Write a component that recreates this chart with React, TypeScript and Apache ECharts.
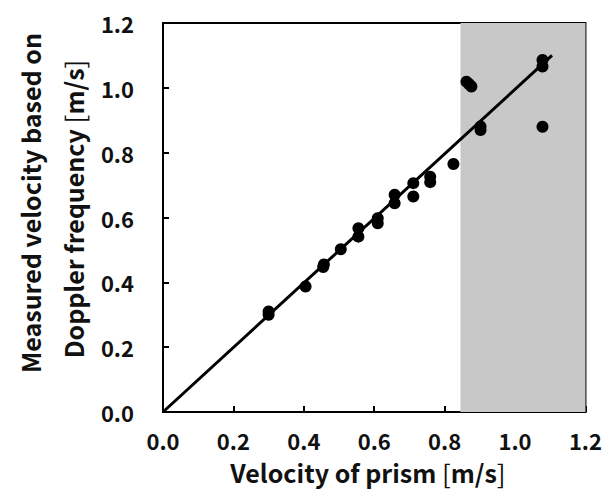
import React, { useEffect, useRef } from "react";
import * as echarts from "echarts";

const prismVelocity = [0.30, 0.30, 0.405, 0.455, 0.457, 0.505, 0.555, 0.555, 0.61, 0.61, 0.658, 0.658, 0.711, 0.711, 0.759, 0.759, 0.825, 0.862, 0.869, 0.876, 0.902, 0.902, 1.078, 1.078, 1.078];
const measuredVelocity = [0.300, 0.310, 0.387, 0.447, 0.455, 0.502, 0.541, 0.567, 0.582, 0.598, 0.644, 0.670, 0.665, 0.706, 0.709, 0.726, 0.765, 1.019, 1.012, 1.004, 0.870, 0.881, 1.086, 1.066, 0.880];
const fitX = [0, 1.105];
const fitY = [0, 1.1];
const shadeRange = [0.845, 1.2];

const FONT = "'Noto Sans CJK JP', 'Noto Sans', sans-serif";

const richStyles = {
  b: { fontSize: 25, fontWeight: "bold", fontFamily: FONT, fill: "#111" },
  n: { fontSize: 26, fontWeight: "normal", fontFamily: FONT, fill: "#111" },
};

export default function App() {
  const ref = useRef<HTMLDivElement>(null);
  useEffect(() => {
    if (!ref.current) return;
    const chart = echarts.init(ref.current, undefined, { renderer: "svg" });
    const axisCommon = {
      type: "value",
      min: 0,
      max: 1.2,
      interval: 0.2,
      axisLine: { show: true, lineStyle: { color: "#000", width: 2 } },
      axisTick: { show: true, inside: true, length: 6, lineStyle: { color: "#000", width: 2 } },
      splitLine: { show: false },
      axisLabel: {
        color: "#111",
        fontSize: 22,
        fontWeight: "bold",
        fontFamily: FONT,
        formatter: (v: number) => v.toFixed(1),
      },
    };
    const titleText = (x: number, y: number, rot: number, main: string) => ({
      type: "text",
      x,
      y,
      rotation: rot,
      style: {
        text: `{b|${main} }{n|[}{b|m/s}{n|]}`,
        rich: richStyles,
        fontSize: 25,
        fontWeight: "bold",
        fontFamily: FONT,
        fill: "#111",
        align: "center",
        verticalAlign: "middle",
      },
    });
    chart.setOption({
      animation: false,
      backgroundColor: "#fff",
      grid: {
        left: 163,
        right: 15,
        top: 23,
        bottom: 83,
        show: true,
        borderColor: "#000",
        borderWidth: 2,
        backgroundColor: "transparent",
      },
      xAxis: {
        ...axisCommon,
        axisLabel: { ...axisCommon.axisLabel, margin: 17 },
      },
      yAxis: {
        ...axisCommon,
        axisLabel: { ...axisCommon.axisLabel, margin: 29 },
      },
      graphic: [
        titleText(368, 472, 0, "Velocity of prism"),
        {
          type: "text",
          x: 30,
          y: 203,
          rotation: Math.PI / 2,
          style: {
            text: "Measured velocity based on",
            fontSize: 25,
            fontWeight: "bold",
            fontFamily: FONT,
            fill: "#111",
            align: "center",
            verticalAlign: "middle",
          },
        },
        titleText(73, 209, Math.PI / 2, "Doppler frequency"),
      ],
      series: [
        {
          type: "line",
          data: [],
          z: 1,
          markArea: {
            silent: true,
            itemStyle: { color: "#c8c8c8" },
            data: [[{ xAxis: shadeRange[0] }, { xAxis: shadeRange[1] }]],
          },
        },
        {
          type: "line",
          data: fitX.map((x, i) => [x, fitY[i]]),
          showSymbol: false,
          lineStyle: { color: "#000", width: 3 },
          z: 3,
        },
        {
          type: "scatter",
          data: prismVelocity.map((x, i) => [x, measuredVelocity[i]]),
          symbol: "circle",
          symbolSize: 12,
          itemStyle: { color: "#000", opacity: 1 },
          z: 4,
        },
      ],
    });
    return () => chart.dispose();
  }, []);
  return <div ref={ref} style={{ width: 605, height: 495, position: "absolute", left: 0, top: 0 }} />;
}
